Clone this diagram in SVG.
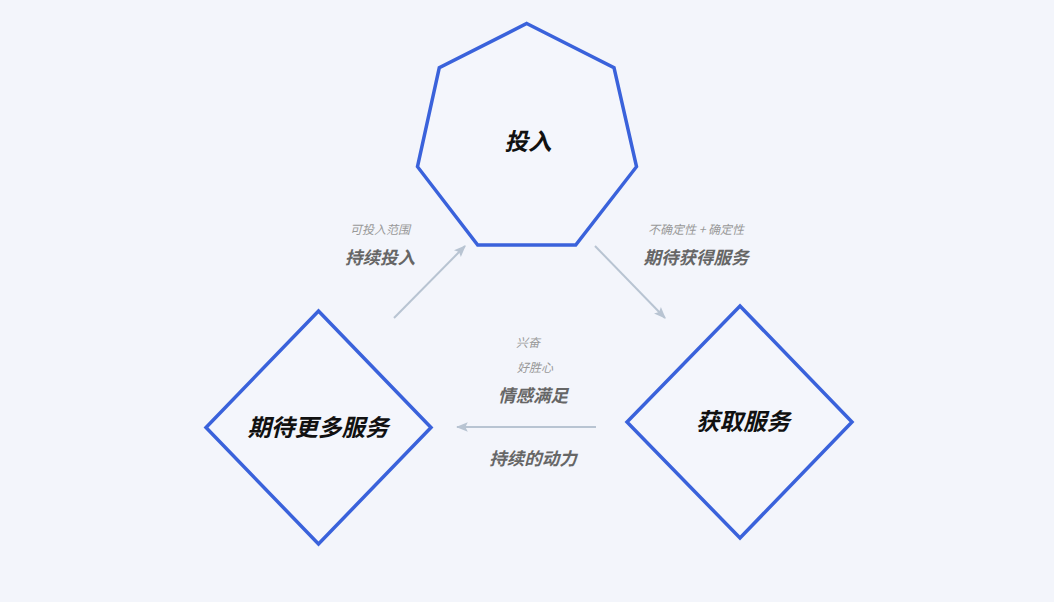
<svg xmlns="http://www.w3.org/2000/svg" width="1054" height="602" viewBox="0 0 1054 602">
<defs>
<style>
.node{fill:#f4f6fc;stroke:#3a62db;stroke-width:3.5;stroke-linejoin:miter}
.nt{font-family:"Noto Sans CJK SC",sans-serif;font-weight:700;font-size:23.5px;fill:#111;text-anchor:middle;font-style:italic}
.lb{font-family:"Noto Sans CJK SC",sans-serif;font-weight:700;font-size:17.5px;fill:#666;text-anchor:middle;font-style:italic}
.sm{font-family:"Noto Sans CJK SC",sans-serif;font-size:12px;fill:#999;text-anchor:middle;font-style:italic}
.cn{stroke:#b8c4d2;stroke-width:2;fill:none;marker-end:url(#ah)}
</style>
<marker id="ah" viewBox="0 0 10 10" refX="9" refY="5" markerWidth="6" markerHeight="6" orient="auto" markerUnits="strokeWidth">
<path d="M0,1 L10,5 L0,9 L2,5 Z" fill="#b8c4d2"/>
</marker>
</defs>
<rect width="1054" height="602" fill="#f3f5fb"/>
<g id="connectors">
<line class="cn" x1="394" y1="318" x2="465" y2="246"/>
<line class="cn" x1="595" y1="246" x2="665" y2="318"/>
<line class="cn" x1="596" y1="427" x2="457" y2="427"/>
</g>
<g id="node-touru">
<polygon class="node" points="526.7,23.5 614,67.7 636.5,166.7 575.7,245 477.7,245 417.5,166.7 439.3,67.7"/>
<text class="nt" x="528" y="150">投入</text>
</g>
<g id="node-qidai">
<polygon class="node" points="318.5,311 431,427.5 318.5,544 206,427.5"/>
<text class="nt" x="318" y="436">期待更多服务</text>
</g>
<g id="node-huoqu">
<polygon class="node" points="740,306 852,422 740,538 627,422"/>
<text class="nt" x="743" y="430">获取服务</text>
</g>
<g id="labels">
<text class="sm" x="380" y="234">可投入范围</text>
<text class="lb" x="380" y="264">持续投入</text>
<text class="sm" x="696" y="234">不确定性 + 确定性</text>
<text class="lb" x="696" y="264">期待获得服务</text>
<text class="sm" x="528" y="347">兴奋</text>
<text class="sm" x="535" y="372">好胜心</text>
<text class="lb" x="533" y="402">情感满足</text>
<text class="lb" x="533" y="465">持续的动力</text>
</g>
</svg>
